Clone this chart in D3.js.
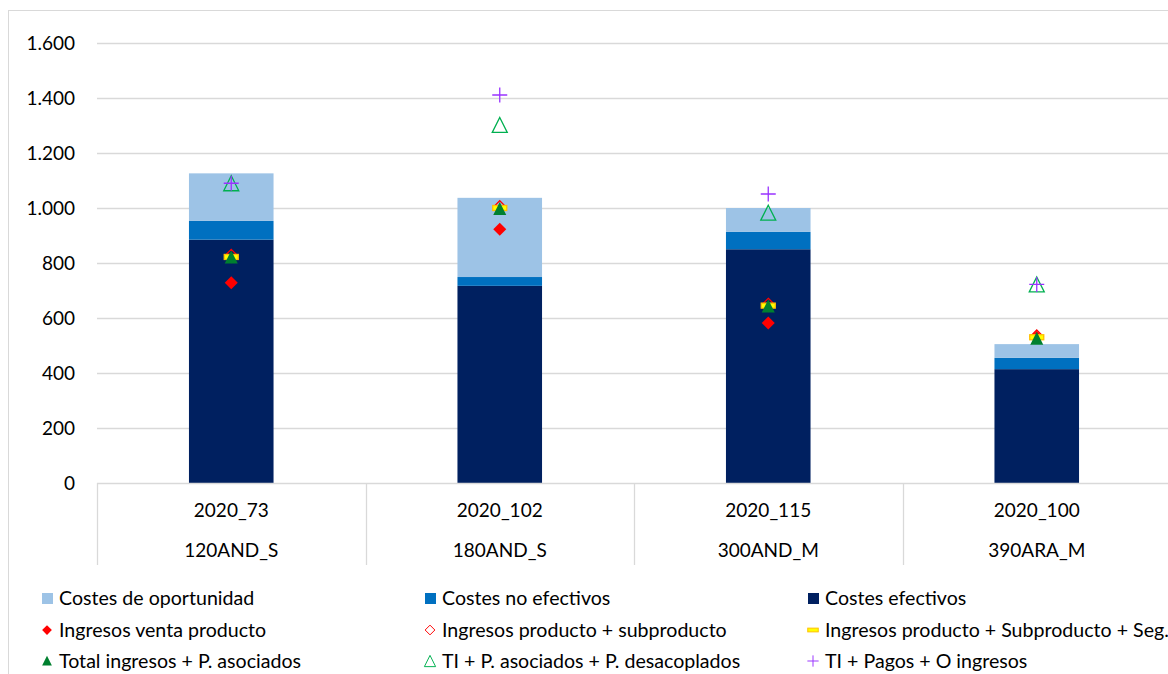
<!DOCTYPE html>
<html><head><meta charset="utf-8">
<script src="https://cdn.jsdelivr.net/npm/d3@7"></script>
<style>
html,body{margin:0;padding:0;background:#fff;}
svg{display:block;font-family:Lato,"Open Sans",sans-serif;}
</style></head>
<body><svg id="c" width="1168" height="674"></svg>
<script>
const categories = ["2020_73","2020_102","2020_115","2020_100"];
const subLabels = ["120AND_S","180AND_S","300AND_M","390ARA_M"];
const costesEfectivos = [885, 717, 850, 414];
const costesNoEfectivos = [68, 32, 63, 41];
const costesOportunidad = [173, 288, 87, 50];
const ingresosVenta = [728, 923, 582, 530];
const ingresosProdSub = [826, 1003, 648, 533];
const ingresosProdSubSeg = [822, 1000, 645, 530];
const totalIngresosPA = [820, 996, 642, 525];
const tiPAPD = [1090, 1302, 983, 722];
const tiPagosO = [1090, 1411, 1051, 722];
const yTicks = [0,200,400,600,800,1000,1200,1400,1600];

const svg = d3.select("#c");
const W = 1168, H = 674;
const m = {left:97, top:43, bottom:483};
const plotRight = 1171;

// outer border
svg.append("rect").attr("x",8.5).attr("y",10.5).attr("width",W).attr("height",H)
  .attr("fill","none").attr("stroke","#d9d9d9");

const x = d3.scaleBand().domain(categories).range([m.left, plotRight]).paddingInner(0).paddingOuter(0);
const y = d3.scaleLinear().domain([0,1600]).range([m.bottom, m.top]);
const loc = d3.formatLocale({decimal:",", thousands:".", grouping:[3], currency:["","€"]});
const fmt = loc.format(",d");

// gridlines
svg.append("g").selectAll("line").data(yTicks.filter(d=>d>0)).join("line")
  .attr("x1",m.left).attr("x2",plotRight).attr("y1",d=>Math.round(y(d))+0.5).attr("y2",d=>Math.round(y(d))+0.5)
  .attr("stroke","#d9d9d9").attr("stroke-width",1.3);

// y axis labels
const yAxis = d3.axisLeft(y).tickValues(yTicks).tickFormat(fmt).tickSize(0).tickPadding(22);
const ga = svg.append("g").attr("transform",`translate(${m.left},0)`).call(yAxis);
ga.select(".domain").remove();
ga.selectAll("text").attr("font-size",19).attr("fill","#000").attr("font-family","Lato");

// stacked bars
const stackData = categories.map((c,i)=>({cat:c, ef:costesEfectivos[i], nef:costesNoEfectivos[i], op:costesOportunidad[i]}));
const keys = ["ef","nef","op"];
const colors = {ef:"#002060", nef:"#0070C0", op:"#9DC3E6"};
const series = d3.stack().keys(keys)(stackData);
const bw = x.bandwidth()*0.315;
svg.append("g").selectAll("g").data(series).join("g").attr("fill",d=>colors[d.key])
  .selectAll("rect").data(d=>d).join("rect")
  .attr("x",d=>x(d.data.cat)+x.bandwidth()/2-bw/2).attr("width",bw)
  .attr("y",d=>y(d[1])).attr("height",d=>y(d[0])-y(d[1]));

// x axis line and separators
svg.append("line").attr("x1",m.left).attr("x2",plotRight).attr("y1",m.bottom+0.5).attr("y2",m.bottom+0.5)
  .attr("stroke","#d9d9d9").attr("stroke-width",1.3);
const seps = categories.map(c=>x(c)).concat([plotRight]);
svg.append("g").selectAll("line").data(seps).join("line")
  .attr("x1",d=>Math.round(d)+0.5).attr("x2",d=>Math.round(d)+0.5).attr("y1",m.bottom).attr("y2",565)
  .attr("stroke","#d9d9d9").attr("stroke-width",1.3);
const xl = svg.append("g");
xl.selectAll("text.c").data(categories).join("text").attr("class","c")
  .attr("x",d=>x(d)+x.bandwidth()/2).attr("y",517).attr("text-anchor","middle")
  .attr("font-size",19).text(d=>d);
xl.selectAll("text.s").data(categories).join("text").attr("class","s")
  .attr("x",d=>x(d)+x.bandwidth()/2).attr("y",557).attr("text-anchor","middle")
  .attr("font-size",19).text((d,i)=>subLabels[i]);

// marker shapes
function drawMarker(g, type, cx, cy){
  if(type==="diamondFill"){
    g.append("path").attr("d",`M${cx},${cy-6.5}L${cx+6.5},${cy}L${cx},${cy+6.5}L${cx-6.5},${cy}Z`).attr("fill","#FF0000");
  } else if(type==="diamondOpen"){
    g.append("path").attr("d",`M${cx},${cy-6.5}L${cx+6.5},${cy}L${cx},${cy+6.5}L${cx-6.5},${cy}Z`).attr("fill","none").attr("stroke","#FF0000").attr("stroke-width",1.3);
  } else if(type==="dash"){
    g.append("rect").attr("x",cx-7).attr("y",cy-2.5).attr("width",14).attr("height",5).attr("fill","#FFFF00").attr("stroke","#FFC000").attr("stroke-width",1.3);
  } else if(type==="triFill"){
    g.append("path").attr("d",`M${cx},${cy-7}L${cx+6.5},${cy+6}L${cx-6.5},${cy+6}Z`).attr("fill","#00802F");
  } else if(type==="triOpen"){
    g.append("path").attr("d",`M${cx},${cy-7.5}L${cx+7.5},${cy+7.5}L${cx-7.5},${cy+7.5}Z`).attr("fill","none").attr("stroke","#00B050").attr("stroke-width",1.3);
  } else if(type==="plus"){
    g.append("path").attr("d",`M${cx-7.5},${cy}H${cx+7.5}M${cx},${cy-7.5}V${cy+7.5}`).attr("fill","none").attr("stroke","#9933FF").attr("stroke-width",1.3);
  }
}
const markerSeries = [
  {vals:ingresosVenta, type:"diamondFill"},
  {vals:ingresosProdSub, type:"diamondOpen"},
  {vals:ingresosProdSubSeg, type:"dash"},
  {vals:totalIngresosPA, type:"triFill"},
  {vals:tiPAPD, type:"triOpen"},
  {vals:tiPagosO, type:"plus"}
];
const mg = svg.append("g");
markerSeries.forEach(s=>{
  s.vals.forEach((v,i)=>{
    drawMarker(mg, s.type, x(categories[i])+x.bandwidth()/2, y(v));
  });
});

// legend
const legend = [
  {name:"Costes de oportunidad", type:"sq", color:"#9DC3E6"},
  {name:"Costes no efectivos", type:"sq", color:"#0070C0"},
  {name:"Costes efectivos", type:"sq", color:"#002060"},
  {name:"Ingresos venta producto", type:"diamondFill"},
  {name:"Ingresos producto + subproducto", type:"diamondOpen"},
  {name:"Ingresos producto + Subproducto + Seg.", type:"dash"},
  {name:"Total ingresos + P. asociados", type:"triFill"},
  {name:"TI + P. asociados + P. desacoplados", type:"triOpen"},
  {name:"TI + Pagos + O ingresos", type:"plus"}
];
const colX = [47, 430, 813];
const rowY = [598, 630, 661];
const lg = svg.append("g");
legend.forEach((d,i)=>{
  const cx = colX[i%3], cy = rowY[Math.floor(i/3)];
  if(d.type==="sq"){
    lg.append("rect").attr("x",cx-5).attr("y",cy-5).attr("width",11).attr("height",11).attr("fill",d.color);
  } else {
    const g = lg.append("g").attr("transform",`translate(${cx},${cy}) scale(0.75) translate(${-cx},${-cy})`);
    drawMarker(g, d.type, cx, cy);
  }
  lg.append("text").attr("x",cx+12).attr("y",cy+7).attr("font-size",19.6).text(d.name);
});
</script></body></html>
